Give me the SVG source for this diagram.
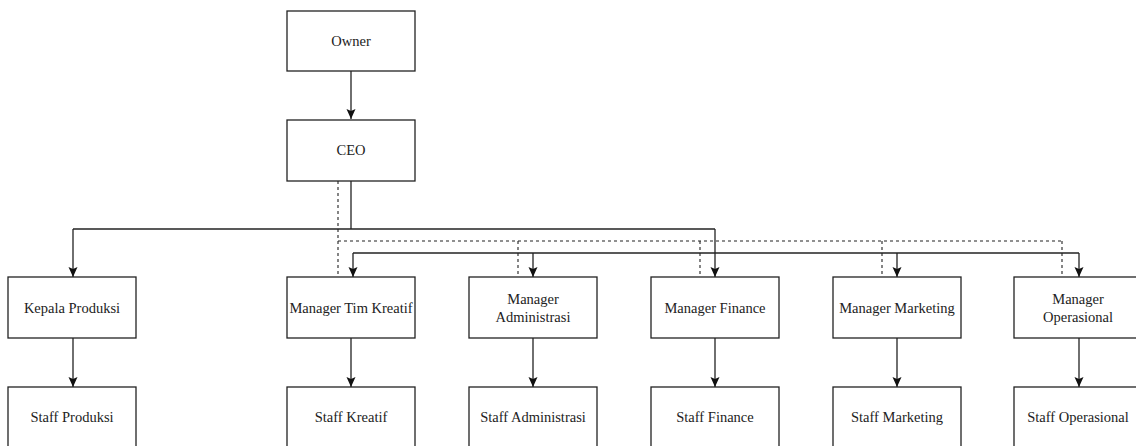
<svg xmlns="http://www.w3.org/2000/svg" width="1136" height="446" viewBox="0 0 1136 446">
  <style>
    .box { fill: #ffffff; stroke: #222222; stroke-width: 1.3; }
    .lbl { font-family: 'Liberation Serif', 'DejaVu Serif', 'Times New Roman', serif; font-size: 14.5px; fill: #222222; text-anchor: middle; }
    .edge { fill: none; stroke: #222222; stroke-width: 1.3; }
    .arrow { marker-end: url(#head); }
    .dash { fill: none; stroke: #222222; stroke-width: 1.1; stroke-dasharray: 3 3; }
  </style>
  <defs>
    <marker id="head" viewBox="0 0 10 10" markerWidth="10" markerHeight="10" refX="10" refY="5" orient="auto" markerUnits="userSpaceOnUse">
      <path d="M0,0.5 L10,5 L0,9.5 L2,5 Z" fill="#111111"/>
    </marker>
  </defs>

  <rect width="1136" height="446" fill="#ffffff"/>

  <!-- connectors -->
  <g id="connectors">
    <!-- Owner to CEO -->
    <path class="edge arrow" d="M351,71 V119"/>
    <!-- CEO trunk and first bus -->
    <path class="edge" d="M351,181 V229"/>
    <path class="edge" d="M73,229 H715"/>
    <path class="edge arrow" d="M73,229 V277"/>
    <path class="edge arrow" d="M715,229 V277"/>
    <!-- second bus -->
    <path class="edge" d="M353,253 H1079"/>
    <path class="edge arrow" d="M353,253 V277"/>
    <path class="edge arrow" d="M533,253 V277"/>
    <path class="edge arrow" d="M897,253 V277"/>
    <path class="edge arrow" d="M1079,253 V277"/>
    <!-- dashed coordination line -->
    <path class="dash" d="M338,181 V277"/>
    <path class="dash" d="M338,241 H1062"/>
    <path class="dash" d="M518,241 V277"/>
    <path class="dash" d="M700,241 V277"/>
    <path class="dash" d="M882,241 V277"/>
    <path class="dash" d="M1062,241 V277"/>
    <!-- managers to staff -->
    <path class="edge arrow" d="M73,338 V387"/>
    <path class="edge arrow" d="M351,338 V387"/>
    <path class="edge arrow" d="M533,338 V387"/>
    <path class="edge arrow" d="M715,338 V387"/>
    <path class="edge arrow" d="M897,338 V387"/>
    <path class="edge arrow" d="M1079,338 V387"/>
  </g>

  <g font-family="Liberation Serif, DejaVu Serif, serif">
  <!-- top level -->
  <g id="owner">
    <rect class="box" x="287" y="11" width="128" height="60"/>
    <text class="lbl" x="351" y="46">Owner</text>
  </g>
  <g id="ceo">
    <rect class="box" x="287" y="120" width="128" height="61"/>
    <text class="lbl" x="351" y="155">CEO</text>
  </g>

  <!-- managers -->
  <g id="kepala-produksi">
    <rect class="box" x="8" y="277" width="128" height="61"/>
    <text class="lbl" x="72" y="313">Kepala Produksi</text>
  </g>
  <g id="manager-tim-kreatif">
    <rect class="box" x="287" y="277" width="128" height="61"/>
    <text class="lbl" x="351" y="313">Manager Tim Kreatif</text>
  </g>
  <g id="manager-administrasi">
    <rect class="box" x="469" y="277" width="128" height="61"/>
    <text class="lbl" x="533" y="304">Manager</text>
    <text class="lbl" x="533" y="322">Administrasi</text>
  </g>
  <g id="manager-finance">
    <rect class="box" x="651" y="277" width="128" height="61"/>
    <text class="lbl" x="715" y="313">Manager Finance</text>
  </g>
  <g id="manager-marketing">
    <rect class="box" x="833" y="277" width="128" height="61"/>
    <text class="lbl" x="897" y="313">Manager Marketing</text>
  </g>
  <g id="manager-operasional">
    <rect class="box" x="1014" y="277" width="128" height="61"/>
    <text class="lbl" x="1078" y="304">Manager</text>
    <text class="lbl" x="1078" y="322">Operasional</text>
  </g>

  <!-- staff -->
  <g id="staff-produksi">
    <rect class="box" x="8" y="387" width="128" height="61"/>
    <text class="lbl" x="72" y="422">Staff Produksi</text>
  </g>
  <g id="staff-kreatif">
    <rect class="box" x="287" y="387" width="128" height="61"/>
    <text class="lbl" x="351" y="422">Staff Kreatif</text>
  </g>
  <g id="staff-administrasi">
    <rect class="box" x="469" y="387" width="128" height="61"/>
    <text class="lbl" x="533" y="422">Staff Administrasi</text>
  </g>
  <g id="staff-finance">
    <rect class="box" x="651" y="387" width="128" height="61"/>
    <text class="lbl" x="715" y="422">Staff Finance</text>
  </g>
  <g id="staff-marketing">
    <rect class="box" x="833" y="387" width="128" height="61"/>
    <text class="lbl" x="897" y="422">Staff Marketing</text>
  </g>
  <g id="staff-operasional">
    <rect class="box" x="1014" y="387" width="128" height="61"/>
    <text class="lbl" x="1078" y="422">Staff Operasional</text>
  </g>
  </g>
</svg>
